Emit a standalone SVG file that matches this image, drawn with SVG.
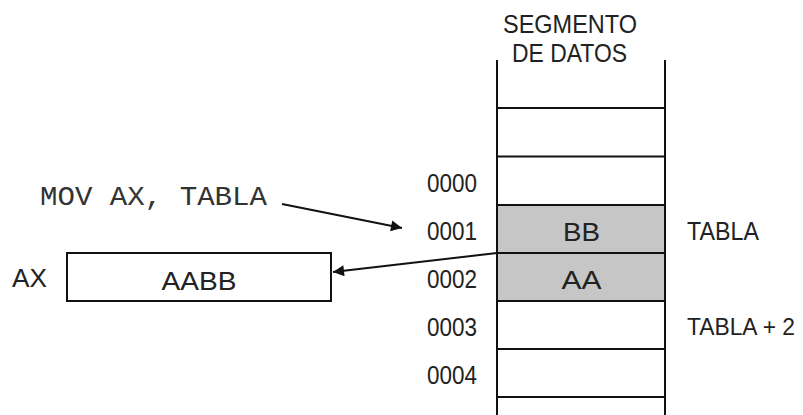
<svg xmlns="http://www.w3.org/2000/svg" width="803" height="415" viewBox="0 0 803 415">
<style>
.lbl{font-family:"Liberation Sans",Arial,sans-serif;font-size:25px;fill:#222}
.mono{font-family:"Liberation Mono","Courier New",monospace;font-size:27px;fill:#333}
.ln{stroke:#111;stroke-width:2;fill:none}
.cell{stroke:#111;stroke-width:2}
</style>
<defs>
<marker id="ah" viewBox="0 0 10 10" refX="10" refY="5" markerWidth="15" markerHeight="11" markerUnits="userSpaceOnUse" orient="auto">
<path d="M0,0 L10,5 L0,10 z" fill="#111"/>
</marker>
</defs>
<g id="segmento">
<rect x="497" y="205" width="168" height="96" fill="#c6c6c6"/>
<line class="ln" x1="497" y1="60" x2="497" y2="415"/>
<line class="ln" x1="665" y1="60" x2="665" y2="415"/>
<line class="ln" x1="497" y1="108" x2="665" y2="108"/>
<line class="ln" x1="497" y1="156.5" x2="665" y2="156.5"/>
<line class="ln" x1="497" y1="205" x2="665" y2="205"/>
<line class="ln" x1="497" y1="253" x2="665" y2="253"/>
<line class="ln" x1="497" y1="301" x2="665" y2="301"/>
<line class="ln" x1="497" y1="349" x2="665" y2="349"/>
<line class="ln" x1="497" y1="397" x2="665" y2="397"/>
<text class="lbl" x="570" y="33" text-anchor="middle" textLength="134" lengthAdjust="spacingAndGlyphs">SEGMENTO</text>
<text class="lbl" x="569.5" y="62" text-anchor="middle" textLength="115" lengthAdjust="spacingAndGlyphs">DE DATOS</text>
<text class="lbl" x="581.5" y="241" text-anchor="middle" textLength="37" lengthAdjust="spacingAndGlyphs">BB</text>
<text class="lbl" x="581.5" y="289" text-anchor="middle" textLength="40" lengthAdjust="spacingAndGlyphs">AA</text>
</g>
<g id="direcciones">
<text class="lbl" x="427" y="192" textLength="50" lengthAdjust="spacingAndGlyphs">0000</text>
<text class="lbl" x="427" y="240" textLength="50" lengthAdjust="spacingAndGlyphs">0001</text>
<text class="lbl" x="427" y="288" textLength="50" lengthAdjust="spacingAndGlyphs">0002</text>
<text class="lbl" x="427" y="336" textLength="50" lengthAdjust="spacingAndGlyphs">0003</text>
<text class="lbl" x="427" y="384" textLength="50" lengthAdjust="spacingAndGlyphs">0004</text>
</g>
<g id="etiquetas">
<text class="lbl" x="687" y="240" textLength="72" lengthAdjust="spacingAndGlyphs">TABLA</text>
<text class="lbl" x="687" y="335" style="font-size:23px" textLength="108" lengthAdjust="spacingAndGlyphs">TABLA + 2</text>
</g>
<g id="instruccion">
<text class="mono" x="40" y="205" textLength="227" lengthAdjust="spacingAndGlyphs">MOV AX, TABLA</text>
</g>
<g id="registro-ax">
<text class="lbl" x="12" y="287" textLength="35" lengthAdjust="spacingAndGlyphs">AX</text>
<rect class="cell" x="67" y="253" width="264" height="48" fill="#fff"/>
<text class="lbl" x="199" y="290" text-anchor="middle" textLength="75" lengthAdjust="spacingAndGlyphs">AABB</text>
</g>
<g id="conectores">
<line class="ln" x1="282" y1="204" x2="402" y2="228" marker-end="url(#ah)"/>
<line class="ln" x1="497" y1="253" x2="333" y2="272" marker-end="url(#ah)"/>
</g>
</svg>
